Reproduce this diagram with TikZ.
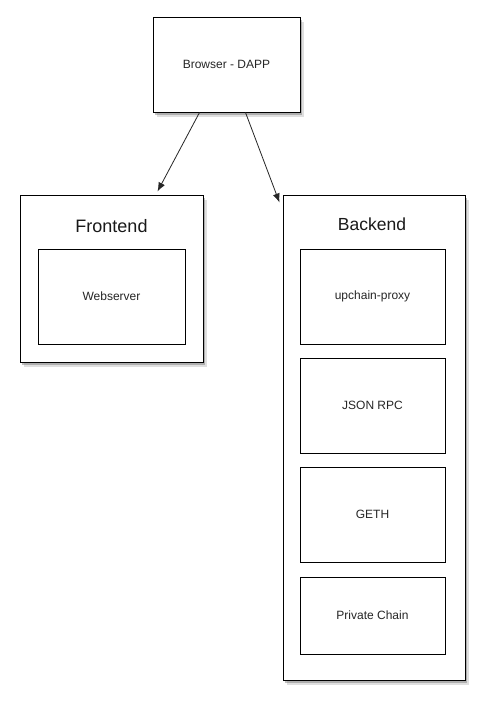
\documentclass[tikz,border=0pt]{standalone}
\usepackage{fontspec}
\setmainfont{Liberation Sans}
\usetikzlibrary{shadows,arrows.meta}
\begin{document}
\begin{tikzpicture}[x=1pt,y=-1pt,
  box/.style={draw=black,line width=1pt,fill=white,rectangle,inner sep=0pt,
    drop shadow={shadow xshift=3.5pt,shadow yshift=-5pt,fill=black!50,opacity=0.25},
    drop shadow={shadow xshift=2pt,shadow yshift=-3pt,fill=black!60,opacity=0.4}},
  inner/.style={draw=black,line width=0.9pt,fill=white,rectangle,inner sep=0pt,
    minimum width=145pt,minimum height=95pt,font=\fontsize{12}{14}\selectfont,text=black!85},
  title/.style={font=\fontsize{18}{21}\selectfont,text=black!90},
  arr/.style={-{Latex[length=9pt,width=7pt]},line width=0.8pt,draw=black!85}]
\useasboundingbox[fill=white] (0,0) rectangle (484,704);
\node[box,minimum width=147pt,minimum height=95pt,font=\fontsize{12}{14}\selectfont,text=black!85] (browser) at (226.5,64.5) {Browser - DAPP};
\node[box,minimum width=183pt,minimum height=167pt] (frontend) at (111.5,278.5) {};
\node[title] (ftitle) at (111.5,226) {Frontend};
\node[inner,minimum width=147pt] (web) at (111.5,296.5) {Webserver};
\node[box,minimum width=182pt,minimum height=485pt] (backend) at (374,437.5) {};
\node[title,font=\fontsize{17.5}{21}\selectfont] (btitle) at (372,224) {Backend};
\node[inner] (proxy) at (372.5,296.5) {upchain-proxy};
\node[inner] (json) at (372.5,405.5) {JSON RPC};
\node[inner] (geth) at (372.5,514.5) {GETH};
\node[inner,minimum height=77pt] (chain) at (372.5,615.5) {Private Chain};
\draw[arr] ([xshift=47pt]browser.south west) -- ([xshift=-46pt,yshift=3pt]frontend.north east);
\draw[arr] ([xshift=93pt]browser.south west) -- ([xshift=-3pt,yshift=-8pt]backend.north west);
\end{tikzpicture}
\end{document}
